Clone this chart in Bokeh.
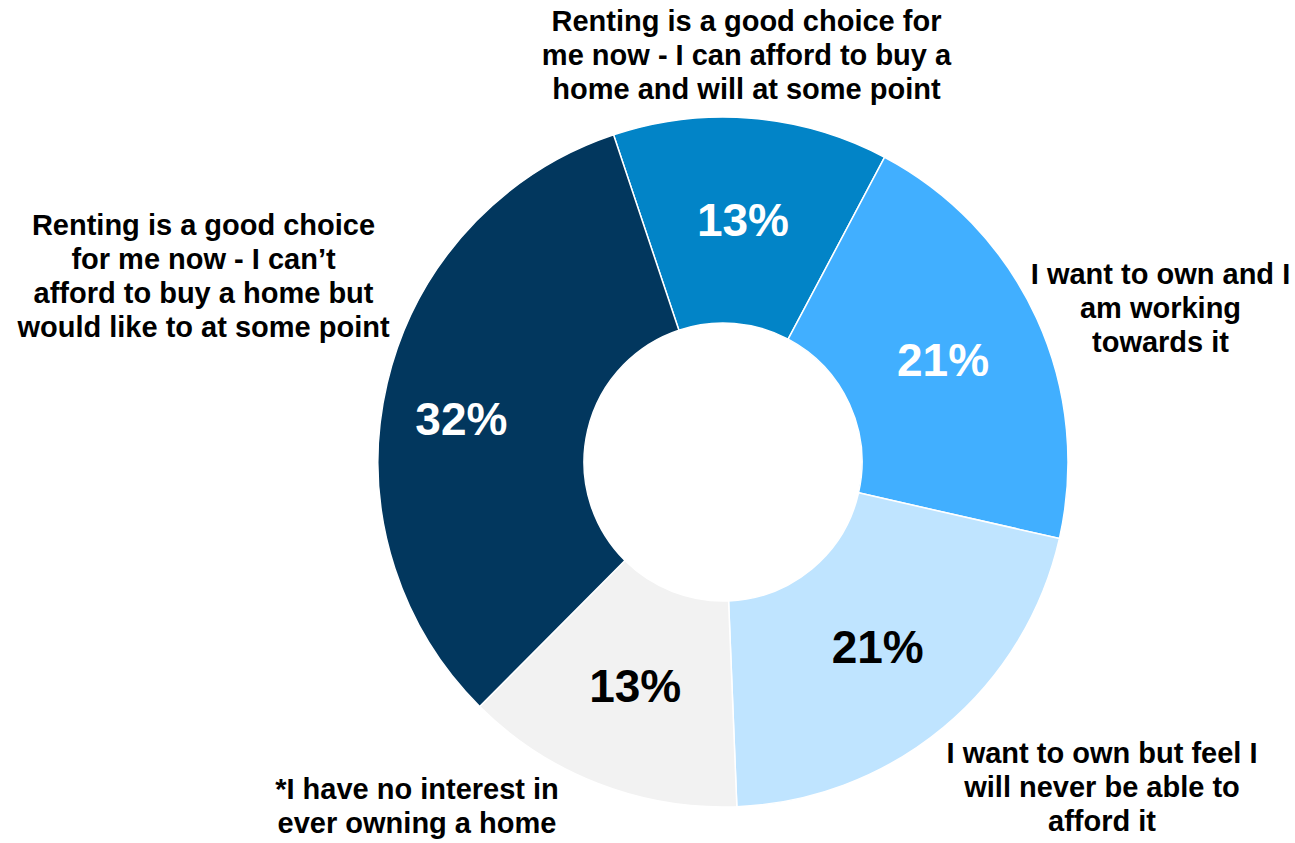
import numpy as np
from bokeh.plotting import figure
from bokeh.models import Range1d, ColumnDataSource
from bokeh.core.properties import value
from bokeh.embed import file_html
from bokeh.resources import INLINE

# ---- data (clockwise from the top) ----
categories = [
    "Renting is a good choice for\nme now - I can afford to buy a\nhome and will at some point",
    "I want to own and I\nam working\ntowards it",
    "I want to own but feel I\nwill never be able to\nafford it",
    "*I have no interest in\never owning a home",
    "Renting is a good choice\nfor me now - I can\u2019t\nafford to buy a home but\nwould like to at some point",
]
shares = [12.9, 20.8, 20.8, 13.1, 32.4]

# ---- style / layout ----
colors = ["#0284C7", "#41AFFF", "#BFE4FF", "#F2F2F2", "#02375E"]
pct_colors = ["white", "white", "black", "black", "white"]
START_DEG = -18.5          # clockwise from 12 o'clock
W, H = 1295, 843
PAGE_H = 843
CX, CY_PAGE = 722.5, 461.5
CY = PAGE_H - CY_PAGE
R_OUT, R_IN = 345, 139
LABEL_R = 242
pct_nudge = [(0, 0), (0, 0), (0, 0), (0, 0), (-26, 13)]
# category label anchors: centre x and first-line baseline (page px)
cat_anchor = [(746, 32), (1160, 285), (1101.5, 764), (416.5, 800), (203, 236)]
LINE_STEP = 33.7
FONT = "Liberation Sans"
PCT_SIZE, CAT_SIZE = 46, 29
BASE_FIX = 0.38            # renderer baseline correction (fraction of em)

p = figure(width=W, height=H, output_backend="svg", toolbar_location=None,
           x_range=Range1d(0, W), y_range=Range1d(0, H),
           x_axis_type=None, y_axis_type=None, min_border=0,
           outline_line_color=None, background_fill_color="white",
           border_fill_color="white")
p.grid.visible = False

frac = np.array(shares) / np.sum(shares)
cum = np.concatenate([[0.0], np.cumsum(frac)]) * 360.0 + START_DEG
t0, t1 = cum[:-1], cum[1:]

src = ColumnDataSource(dict(
    x=[CX] * len(shares), y=[CY] * len(shares),
    start=np.radians(90 - t0), end=np.radians(90 - t1),
    color=colors))
p.annular_wedge(x="x", y="y", inner_radius=R_IN, outer_radius=R_OUT,
                start_angle="start", end_angle="end", direction="clock",
                fill_color="color", line_color="white", line_width=1.5,
                source=src)

# percentage labels (cap-centre on the label ring)
mid = np.radians((t0 + t1) / 2)
px = CX + LABEL_R * np.sin(mid) + np.array([n[0] for n in pct_nudge])
py = CY + LABEL_R * np.cos(mid) - np.array([n[1] for n in pct_nudge])
pct_text = ["%d%%" % round(s) for s in shares]
p.text(x=list(px), y=list(py - 0.358 * PCT_SIZE + BASE_FIX * PCT_SIZE),
       text=pct_text, text_color=pct_colors,
       text_font=value(FONT), text_font_style="bold",
       text_font_size="%dpx" % PCT_SIZE,
       text_align="center", text_baseline="alphabetic")

# category labels
lx, ly, lt = [], [], []
for cat, (ax, ay) in zip(categories, cat_anchor):
    for i, line in enumerate(cat.split("\n")):
        lx.append(ax)
        ly.append(PAGE_H - (ay + i * LINE_STEP) + BASE_FIX * CAT_SIZE)
        lt.append(line)
p.text(x=lx, y=ly, text=lt, text_color="black",
       text_font=value(FONT), text_font_style="bold",
       text_font_size="%dpx" % CAT_SIZE,
       text_align="center", text_baseline="alphabetic")

open("out.html", "w").write(file_html(p, INLINE))
